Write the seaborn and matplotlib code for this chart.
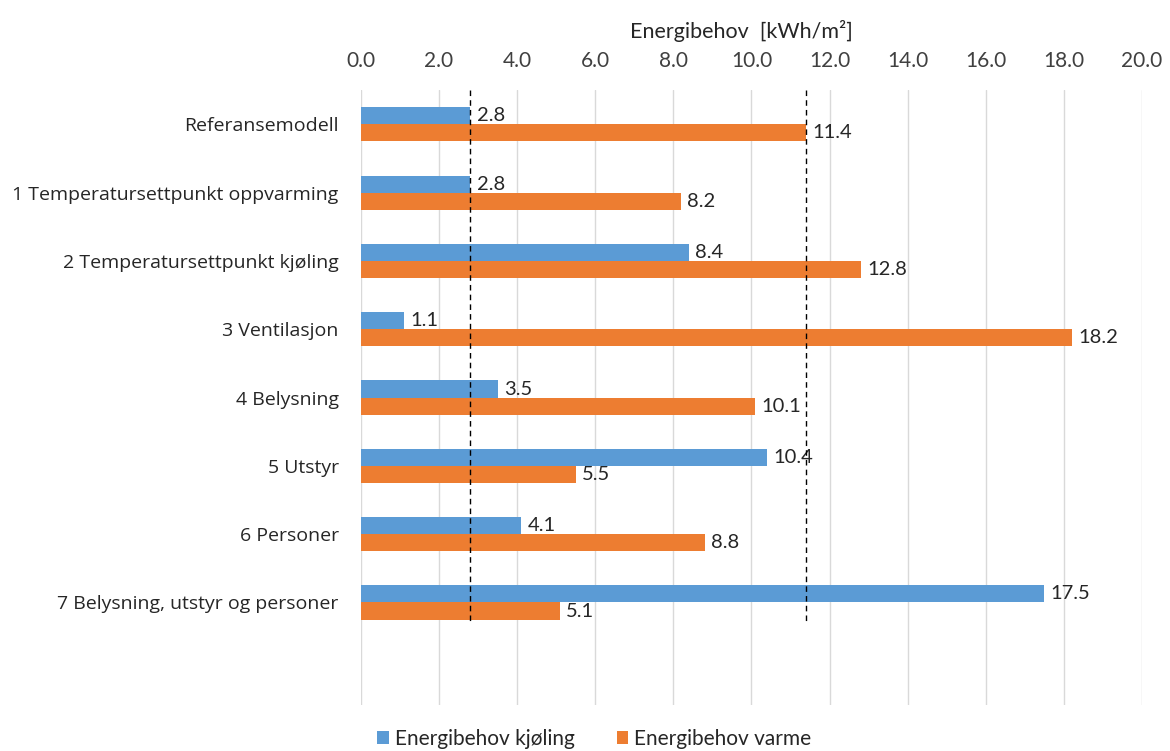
import matplotlib
matplotlib.use("Agg")
import matplotlib.pyplot as plt
from matplotlib import font_manager
from matplotlib.patches import Patch
import numpy as np
import pandas as pd
import seaborn as sns

# --- data -------------------------------------------------------------
cases = [
    "Referansemodell",
    "1 Temperatursettpunkt oppvarming",
    "2 Temperatursettpunkt kjøling",
    "3 Ventilasjon",
    "4 Belysning",
    "5 Utstyr",
    "6 Personer",
    "7 Belysning, utstyr og personer",
]
cooling = [2.8, 2.8, 8.4, 1.1, 3.5, 10.4, 4.1, 17.5]
heating = [11.4, 8.2, 12.8, 18.2, 10.1, 5.5, 8.8, 5.1]
series_names = ["Energibehov kjøling", "Energibehov varme"]
x_ticks = [0, 2, 4, 6, 8, 10, 12, 14, 16, 18, 20]
x_label = "Energibehov  [kWh/m²]"

# reference levels (Referansemodell) drawn as dashed guides
ref_cooling = cooling[0]
ref_heating = heating[0]

colors = ["#5B9BD5", "#ED7D31"]

# --- fonts ------------------------------------------------------------
available = {f.name for f in font_manager.fontManager.ttflist}
narrow = next((f for f in ["Liberation Sans Narrow", "Lato", "Open Sans"] if f in available), "DejaVu Sans")
body = "Open Sans" if "Open Sans" in available else "DejaVu Sans"

sns.set_theme(style="white")
plt.rcParams["font.family"] = [narrow, "DejaVu Sans"]

df = pd.DataFrame({
    "case": cases * 2,
    "value": cooling + heating,
    "series": [series_names[0]] * len(cases) + [series_names[1]] * len(cases),
})

fig = plt.figure(figsize=(11.70, 7.51), dpi=100)
ax = fig.add_axes([0.3085, 0.0613, 0.6675, 0.8187])

sns.barplot(
    data=df, y="case", x="value", hue="series", order=cases,
    hue_order=series_names, palette=colors, orient="h",
    width=0.5, saturation=1, ax=ax, legend=False, errorbar=None,
    linewidth=0,
)

for container in ax.containers:
    ax.bar_label(container, fmt="%.1f", padding=4.5, fontsize=14.5,
                 color="#262626", family=[narrow, "DejaVu Sans"])

ax.set_xlim(0, 20)
ax.set_ylim(len(cases) + 0.5, -0.5)
ax.set_xticks(x_ticks)
ax.set_xticklabels([f"{t:.1f}" for t in x_ticks], fontsize=15, color="#404040")
ax.xaxis.tick_top()
ax.xaxis.set_label_position("top")
ax.set_xlabel(x_label, fontsize=15.5, color="#262626")
ax.xaxis.set_label_coords(0.487, 1.084)
ax.set_ylabel("")
ax.tick_params(axis="x", length=0, pad=14)
ax.tick_params(axis="y", length=0, pad=16)
for lbl in ax.get_yticklabels():
    lbl.set_family([body, "DejaVu Sans"])
    lbl.set_fontsize(14)
    lbl.set_color("#262626")

ax.grid(axis="x", color="#D9D9D9", linewidth=1)
ax.grid(axis="y", visible=False)
ax.set_axisbelow(True)
for s in ax.spines.values():
    s.set_visible(False)

# dashed guides at the reference model values
y_end = len(cases) - 1 + 0.32
for v in (ref_cooling, ref_heating):
    ax.plot([v, v], [-0.5, y_end], color="black", linestyle=(0, (4, 3)),
            linewidth=1, zorder=5)

handles = [Patch(facecolor=c, edgecolor="none") for c in colors]
fig.legend(handles, series_names, loc="lower center", ncol=2, frameon=False,
           bbox_to_anchor=(0.508, -0.022), fontsize=15, handlelength=0.55,
           handleheight=0.55, handletextpad=0.3, columnspacing=2.0)

fig.savefig("out.png", dpi=100, facecolor="white")
